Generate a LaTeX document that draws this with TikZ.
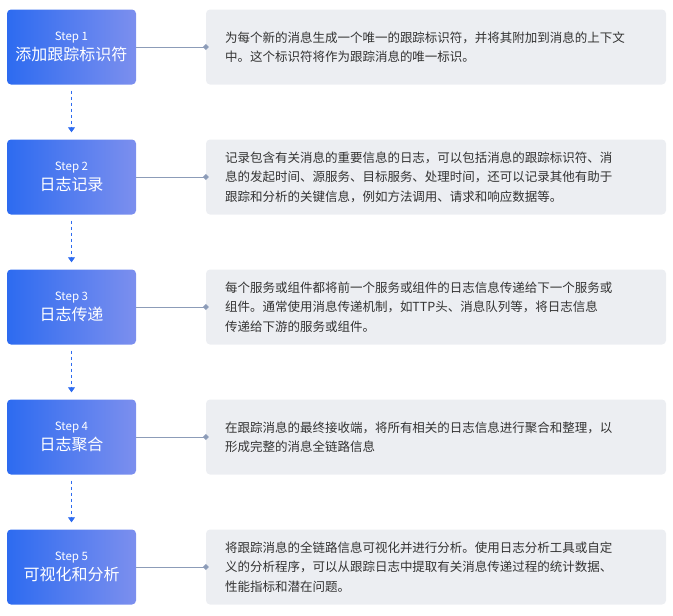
\documentclass[tikz,border=0pt]{standalone}
\usepackage{fontspec}
\setmainfont{Noto Sans CJK SC}
\usetikzlibrary{positioning,arrows.meta}
\definecolor{stepblue}{HTML}{2D6BF0}
\definecolor{steplight}{HTML}{7C8FEE}
\definecolor{notegray}{HTML}{ECEEF2}
\definecolor{linkgray}{HTML}{8C9CB8}
\definecolor{notetext}{HTML}{333333}
\tikzset{
  stepbox/.style={rounded corners=4pt, minimum width=129pt, minimum height=75pt,
    left color=stepblue, right color=steplight, text=white, align=center, inner sep=0pt},
  notebox/.style={rounded corners=4pt, fill=notegray, minimum width=460pt, minimum height=75pt,
    text width=422pt, align=left, text=notetext, inner sep=0pt,
    font=\fontsize{12.5}{19.5}\selectfont},
  link/.style={linkgray, thick},
  flow/.style={stepblue, thick, dashed, -{Triangle[length=5pt,width=7pt]}},
}
\newcommand{\steptext}[2]{{\fontsize{11.5}{14}\selectfont Step #1}\\[3pt]{\fontsize{16}{20}\selectfont #2}}
\begin{document}
\begin{tikzpicture}[x=1pt, y=-1pt]
  \useasboundingbox (0,0) rectangle (673,616);

  \node[stepbox] (s1) at (71.5,47) {\steptext{1}{添加跟踪标识符}};
  \node[stepbox] (s2) at (71.5,177) {\steptext{2}{日志记录}};
  \node[stepbox] (s3) at (71.5,307) {\steptext{3}{日志传递}};
  \node[stepbox] (s4) at (71.5,437) {\steptext{4}{日志聚合}};
  \node[stepbox] (s5) at (71.5,567) {\steptext{5}{可视化和分析}};

  % descriptions, broken as printed
  \node[notebox] (n1) at (436,47) {为每个新的消息生成一个唯一的跟踪标识符，并将其附加到消息的上下文\\中。这个标识符将作为跟踪消息的唯一标识。};
  \node[notebox] (n2) at (436,177) {记录包含有关消息的重要信息的日志，可以包括消息的跟踪标识符、消\\息的发起时间、源服务、目标服务、处理时间，还可以记录其他有助于\\跟踪和分析的关键信息，例如方法调用、请求和响应数据等。};
  \node[notebox] (n3) at (436,307) {每个服务或组件都将前一个服务或组件的日志信息传递给下一个服务或\\组件。通常使用消息传递机制，如TTP头、消息队列等，将日志信息\\传递给下游的服务或组件。};
  \node[notebox] (n4) at (436,437) {在跟踪消息的最终接收端，将所有相关的日志信息进行聚合和整理，以\\形成完整的消息全链路信息};
  \node[notebox] (n5) at (436,567) {将跟踪消息的全链路信息可视化并进行分析。使用日志分析工具或自定\\义的分析程序，可以从跟踪日志中提取有关消息传递过程的统计数据、\\性能指标和潜在问题。};

  \foreach \i in {1,...,5} {
    \draw[link] (s\i.east) -- (n\i.west);
    \fill[linkgray] (n\i.west) ++(-3,0) -- ++(3,-3) -- ++(3,3) -- ++(-3,3) -- cycle;
  }
  \foreach \i/\j in {1/2,2/3,3/4,4/5}
    \draw[flow] ([yshift=-6pt]s\i.south) -- ([yshift=7pt]s\j.north);
\end{tikzpicture}
\end{document}
